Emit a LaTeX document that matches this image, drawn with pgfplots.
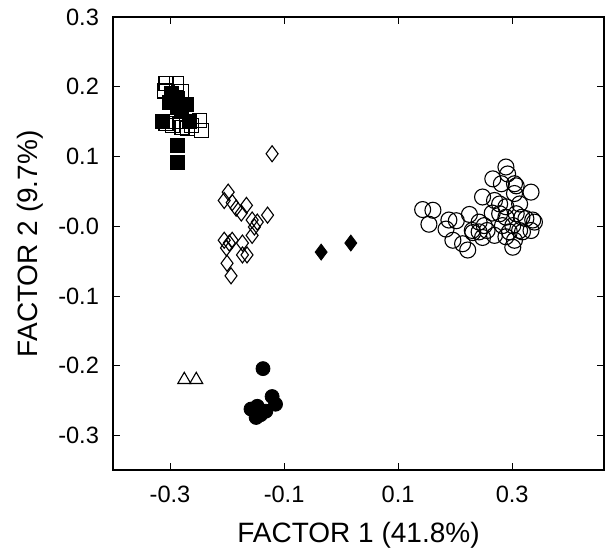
\documentclass[border=0pt]{standalone}
\usepackage{fontspec}
\setmainfont{Liberation Sans}
\usepackage{pgfplots}
\pgfplotsset{compat=1.18}

\begin{document}
\begin{tikzpicture}
  \begin{axis}[
      scale only axis,
      width=245.5pt,
      height=226.75pt,
      xmin=-0.40, xmax=0.461,
      ymin=-0.35, ymax=0.30,
      axis line style={line width=1pt},
      tick style={black, line width=0.5pt},
      major tick length=3.5pt,
      tick align=inside,
      xtick={-0.3,-0.1,0.1,0.3},
      xticklabels={-0.3,-0.1,0.1,0.3},
      ytick={-0.3,-0.2,-0.1,0,0.1,0.2,0.3},
      yticklabels={-0.3,-0.2,-0.1,-0.0,0.1,0.2,0.3},
      ticklabel style={font=\fontsize{11.8}{13}\selectfont},
      yticklabel style={xshift=-3.5pt},
      xticklabel style={yshift=-4pt},
      xlabel={FACTOR 1 (41.8\%)},
      ylabel={FACTOR 2 (9.7\%)},
      label style={font=\fontsize{14}{16}\selectfont},
      xlabel style={at={(axis description cs:0.5,-0.142)}, anchor=center},
      ylabel style={at={(axis description cs:-0.169,0.5)}, anchor=center},
      clip=false,
    ]
    % open squares
    \addplot[only marks, mark=square, mark size=3.5pt, mark options={draw=black, fill=none, line width=0.55pt}] coordinates {
        (-0.307,0.205) (-0.289,0.205) (-0.310,0.194) (-0.280,0.193)
        (-0.249,0.152) (-0.245,0.137) (-0.296,0.144) (-0.279,0.141)
        (-0.270,0.140) (-0.307,0.148) (-0.290,0.150) (-0.262,0.145)
      };
    % filled squares
    \addplot[only marks, mark=square*, mark size=3.5pt, mark options={draw=black, fill=black}] coordinates {
        (-0.298,0.190) (-0.301,0.177) (-0.287,0.184) (-0.272,0.175)
        (-0.287,0.170) (-0.314,0.151) (-0.266,0.151) (-0.287,0.116)
        (-0.287,0.091) (-0.292,0.185) (-0.280,0.165)
      };
    % open diamonds
    \addplot[only marks, mark=diamond, mark size=4pt, mark options={draw=black, fill=none, line width=0.55pt}] coordinates {
        (-0.121,0.104) (-0.198,0.049) (-0.205,0.037) (-0.191,0.034)
        (-0.184,0.026) (-0.166,0.030) (-0.175,0.019) (-0.156,0.009)
        (-0.147,0.006) (-0.129,0.016) (-0.152,-0.001) (-0.156,-0.013)
        (-0.205,-0.020) (-0.196,-0.024) (-0.191,-0.020) (-0.201,-0.031)
        (-0.173,-0.024) (-0.173,-0.041) (-0.165,-0.041) (-0.200,-0.053)
        (-0.193,-0.071)
      };
    % filled diamonds
    \addplot[only marks, mark=diamond*, mark size=4pt, mark options={draw=black, fill=black}] coordinates {
        (-0.035,-0.037) (0.017,-0.024)
      };
    % open triangles
    \addplot[only marks, mark=triangle, mark size=3.75pt, mark options={draw=black, fill=none, line width=0.55pt}] coordinates {
        (-0.275,-0.220) (-0.254,-0.220)
      };
    % filled circles
    \addplot[only marks, mark=*, mark size=3.5pt, mark options={draw=black, fill=black}] coordinates {
        (-0.137,-0.204) (-0.121,-0.244) (-0.115,-0.255) (-0.158,-0.262)
        (-0.147,-0.258) (-0.141,-0.270) (-0.149,-0.274) (-0.132,-0.265)
      };
    % open circles
    \addplot[only marks, mark=o, mark size=4pt, mark options={draw=black, line width=0.55pt}] coordinates {
        (0.143,0.024) (0.161,0.023) (0.154,0.003) (0.189,0.009)
        (0.202,0.008) (0.184,-0.004) (0.196,-0.020) (0.213,-0.025)
        (0.222,-0.034) (0.225,0.017) (0.230,-0.006) (0.242,0.006)
        (0.242,-0.008) (0.251,0.001) (0.248,-0.016) (0.269,-0.013)
        (0.248,0.042) (0.269,0.037) (0.266,0.068) (0.281,0.061)
        (0.289,0.085) (0.292,0.075) (0.304,0.061) (0.304,0.047)
        (0.333,0.049) (0.278,0.032) (0.289,0.028) (0.313,0.032)
        (0.289,0.013) (0.307,0.018) (0.324,0.011) (0.336,0.009)
        (0.283,0.001) (0.301,0.001) (0.295,-0.008) (0.313,-0.006)
        (0.333,-0.006) (0.289,-0.015) (0.304,-0.020) (0.301,-0.030)
        (0.318,-0.008) (0.278,0.018) (0.256,-0.006) (0.307,0.058)
        (0.265,0.019) (0.339,0.006) (0.231,-0.009) (0.317,0.013)
      };
  \end{axis}
  \path (current axis.south west) ++(-56.5pt,-40.75pt) rectangle ([xshift=1pt,yshift=8.5pt]current axis.north east);
\end{tikzpicture}
\end{document}
